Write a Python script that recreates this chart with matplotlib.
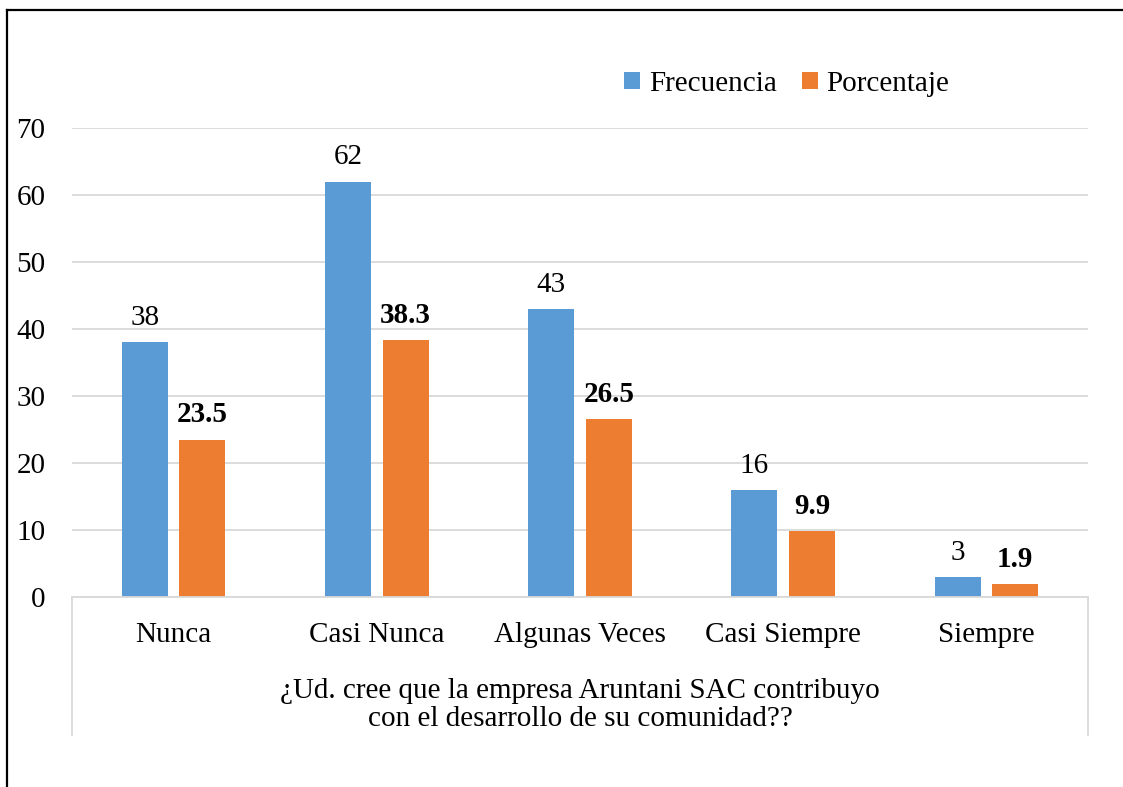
import matplotlib
matplotlib.use("Agg")
import matplotlib.pyplot as plt
import numpy as np
from matplotlib.lines import Line2D
from matplotlib.patches import Patch

categories = ["Nunca", "Casi Nunca", "Algunas Veces", "Casi Siempre", "Siempre"]
frecuencia = [38, 62, 43, 16, 3]
porcentaje = [23.5, 38.3, 26.5, 9.9, 1.9]
yticks = [0, 10, 20, 30, 40, 50, 60, 70]
xlabel = "¿Ud. cree que la empresa Aruntani SAC contribuyo\ncon el desarrollo de su comunidad??"

BLUE = "#5B9BD5"
ORANGE = "#ED7D31"
GRID = "#D9D9D9"
FS = 21

plt.rcParams['font.family'] = ['Liberation Serif', 'DejaVu Serif']

W, H = 1123, 787
fig = plt.figure(figsize=(W / 100, H / 100), dpi=100)

def fx(px):
    return px / W

def fy(py):
    return 1 - py / H

left_px, right_px, top_px, bottom_px = 72, 1088, 128, 597
ax = fig.add_axes([fx(left_px), fy(bottom_px), fx(right_px - left_px), (bottom_px - top_px) / H])

x = np.arange(len(categories))
bw = 0.226
off = 0.142
b1 = ax.bar(x - off, frecuencia, bw, color=BLUE, label="Frecuencia", zorder=3)
b2 = ax.bar(x + off, porcentaje, bw, color=ORANGE, label="Porcentaje", zorder=3)

for rect, v in zip(b1, frecuencia):
    ax.annotate(f"{v}", (rect.get_x() + rect.get_width() / 2, v), xytext=(0, 8),
                textcoords="offset points", ha="center", va="bottom", fontsize=FS)
for rect, v in zip(b2, porcentaje):
    ax.annotate(f"{v}", (rect.get_x() + rect.get_width() / 2, v), xytext=(0, 8),
                textcoords="offset points", ha="center", va="bottom", fontsize=FS,
                fontweight="bold")

ax.set_xlim(-0.5, len(categories) - 0.5)
ax.set_ylim(0, 70)
ax.set_yticks(yticks)
ax.set_yticklabels([str(t) for t in yticks], fontsize=FS)
ax.set_xticks(x)
ax.set_xticklabels(categories, fontsize=FS)
ax.tick_params(axis="y", length=0, pad=19)
ax.tick_params(axis="x", length=0, pad=18)

ax.grid(axis="y", color=GRID, linewidth=1.3, zorder=0)
for s in ["top", "right", "left"]:
    ax.spines[s].set_visible(False)
ax.spines["bottom"].set_color(GRID)
ax.spines["bottom"].set_linewidth(1.3)
ax.spines["bottom"].set_zorder(4)

# multi-level category axis box lines
ybot = 735
for xp in (left_px, right_px):
    fig.add_artist(Line2D([fx(xp), fx(xp)], [fy(bottom_px), fy(ybot)], color=GRID, linewidth=1.3))

fig.text(fx(580), fy(705), xlabel, ha="center", va="center",
         fontsize=FS, linespacing=1.07)

# legend
handles = [Patch(facecolor=BLUE), Patch(facecolor=ORANGE)]
fig.legend(handles, ["Frecuencia", "Porcentaje"], loc="center", bbox_to_anchor=(fx(787), fy(84)),
           ncol=2, frameon=False, fontsize=FS, handlelength=0.55, handleheight=0.55,
           handletextpad=0.3, columnspacing=0.85)

# outer border (cropped on right and bottom)
fig.add_artist(Line2D([fx(7), fx(7)], [fy(10), 0], color="black", linewidth=1.6))
fig.add_artist(Line2D([fx(7), 1], [fy(10), fy(10)], color="black", linewidth=1.6))

fig.savefig("out.png", dpi=100)
